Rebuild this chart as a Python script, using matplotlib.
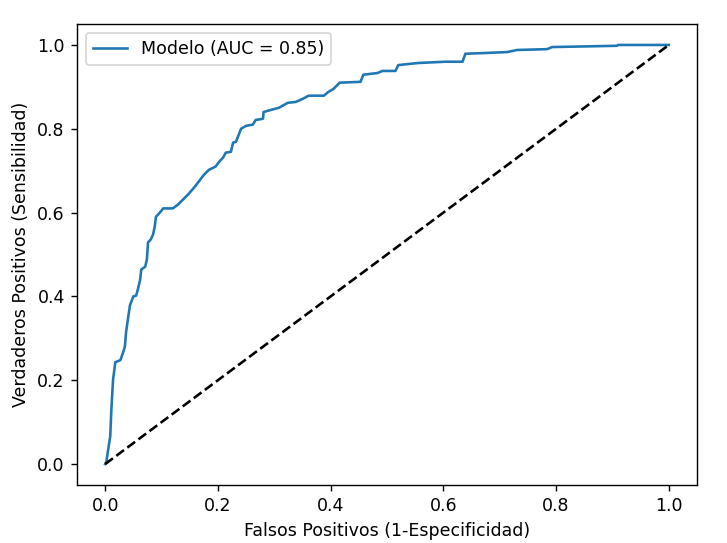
import numpy as np
import matplotlib
matplotlib.use("Agg")
import matplotlib.pyplot as plt

# curva ROC
fpr = [0.0, 0.002, 0.009, 0.011, 0.014, 0.018, 0.027, 0.032, 0.035, 0.037,
       0.041, 0.044, 0.050, 0.055, 0.058, 0.062, 0.064, 0.071, 0.074, 0.076,
       0.081, 0.085, 0.088, 0.090, 0.097, 0.103, 0.120, 0.129, 0.138, 0.147,
       0.158, 0.166, 0.175, 0.184, 0.196, 0.202, 0.209, 0.214, 0.223, 0.227,
       0.232, 0.237, 0.241, 0.250, 0.262, 0.267, 0.280, 0.281, 0.294, 0.308,
       0.324, 0.338, 0.350, 0.361, 0.388, 0.396, 0.405, 0.416, 0.453, 0.458,
       0.483, 0.492, 0.515, 0.520, 0.556, 0.604, 0.634, 0.639, 0.678, 0.713,
       0.731, 0.784, 0.793, 0.908, 0.910, 1.0]
tpr = [0.0, 0.005, 0.067, 0.131, 0.202, 0.243, 0.248, 0.267, 0.281, 0.314,
       0.352, 0.379, 0.400, 0.402, 0.417, 0.440, 0.464, 0.471, 0.488, 0.529,
       0.536, 0.548, 0.567, 0.590, 0.600, 0.610, 0.610, 0.619, 0.631, 0.643,
       0.660, 0.674, 0.690, 0.702, 0.710, 0.721, 0.731, 0.743, 0.745, 0.767,
       0.769, 0.786, 0.800, 0.807, 0.810, 0.821, 0.824, 0.840, 0.845, 0.850,
       0.862, 0.864, 0.871, 0.879, 0.879, 0.888, 0.895, 0.910, 0.912, 0.929,
       0.933, 0.938, 0.938, 0.952, 0.957, 0.960, 0.960, 0.979, 0.981, 0.983,
       0.988, 0.990, 0.995, 0.998, 1.0, 1.0]
auc = 0.85

fig = plt.figure(figsize=(727 / 125, 543 / 125), dpi=125)
ax = fig.add_axes([77 / 727, 1 - 485 / 543, 620 / 727, 461 / 543])
ax.plot(fpr, tpr, label=f"Modelo (AUC = {auc:.2f})")
ax.plot([0, 1], [0, 1], "k--")
ax.set_xlabel("Falsos Positivos (1-Especificidad)")
ax.set_ylabel("Verdaderos Positivos (Sensibilidad)")
ax.legend(loc="upper left")
fig.savefig("out.png", dpi=125)
